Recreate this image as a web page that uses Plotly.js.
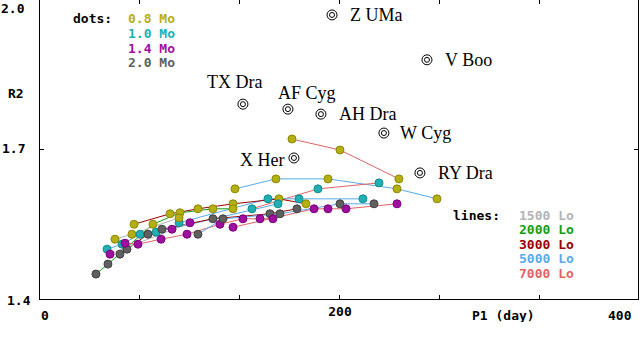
<!DOCTYPE html>
<html>
<head>
<meta charset="utf-8">
<script src="https://cdn.plot.ly/plotly-3.0.1.min.js"></script>
<style>html,body{margin:0;padding:0;background:#fff;}#chart{width:640px;height:350px;}</style>
</head>
<body>
<div id="chart"></div>
<script>
// ---- data ----
const massLabels = ['0.8 Mo', '1.0 Mo', '1.4 Mo', '2.0 Mo'];
const massColors = ['#b4b014', '#20b0b4', '#a010a0', '#606060'];
const massEdge = ['#8c8800', '#108a8e', '#780078', '#404040'];
const lumLabels = ['1500 Lo', '2000 Lo', '3000 Lo', '5000 Lo', '7000 Lo'];
const lumColors = ['#b4b4b4', '#10a010', '#980000', '#5aaaec', '#e06464'];

// model tracks: luminosity index, P1 (day), R2, mass index per point
const trackLum = [4, 3, 4, 3, 2, 1, 0, 3, 2, 4, 4, 3, 0];
const trackX = [
  [168, 200, 239.3],
  [130, 157.3, 192, 238, 264.7],
  [141.3, 185.3, 226],
  [92.7, 152, 172.7, 215.3],
  [62.7, 86.7, 105.3, 128.7, 159.3, 177.3],
  [37.3, 45.3, 75.3, 93.3, 115.3, 128.7],
  [50, 61.3, 92.7],
  [44.7, 54.7, 66.7, 77.3, 158.7],
  [53.3, 58, 72, 81.3, 115.3, 153.3, 171.3],
  [56.7, 65.3, 80.7, 98, 120, 135.3, 146.7, 155.3],
  [128.7, 182.7, 192, 204, 238],
  [105.3, 122, 160, 200, 222.7],
  [46.7, 88, 100]
];
const trackY = [
  [1.721, 1.699, 1.641],
  [1.621, 1.641, 1.641, 1.621, 1.601],
  [1.581, 1.621, 1.633],
  [1.553, 1.601, 1.601, 1.601],
  [1.550, 1.571, 1.581, 1.591, 1.601, 1.591],
  [1.450, 1.470, 1.550, 1.573, 1.581, 1.581],
  [1.520, 1.530, 1.563],
  [1.500, 1.510, 1.530, 1.534, 1.591],
  [1.490, 1.500, 1.530, 1.540, 1.561, 1.571, 1.581],
  [1.512, 1.510, 1.520, 1.530, 1.550, 1.561, 1.561, 1.561],
  [1.544, 1.581, 1.581, 1.581, 1.591],
  [1.530, 1.561, 1.571, 1.591, 1.591],
  [1.490, 1.540, 1.553]
];
const trackMass = [
  [0, 0, 0],
  [0, 0, 0, 0, 0],
  [1, 1, 1],
  [1, 1, 1, 1],
  [0, 0, 0, 0, 0, 0],
  [3, 3, 0, 0, 0, 0],
  [0, 0, 0],
  [1, 1, 1, 1, 1],
  [3, 3, 3, 3, 3, 3, 3],
  [2, 2, 2, 2, 2, 2, 2, 2],
  [2, 2, 2, 2, 2],
  [3, 3, 3, 3, 3],
  [2, 2, 2]
];

// observed stars
const starNames = ['Z UMa', 'V Boo', 'TX Dra', 'AF Cyg', 'AH Dra', 'W Cyg', 'X Her', 'RY Dra'];
const starP1 = [194.7, 258, 135.3, 165.3, 187.3, 229.3, 169.3, 253.3];
const starR2 = [1.970, 1.880, 1.791, 1.781, 1.771, 1.733, 1.683, 1.653];

// axis ticks
const xTickVals = [0, 66.667, 133.333, 200, 266.667, 333.333];
const xTickText = ['', '', '', '200', '', ''];
const yTickVals = [1.4, 1.7, 2.0];
const yTickText = ['1.4', '1.7', '2.0'];

// ---- figure ----
const W = 640, H = 350, ML = 40, MR = 2, MT = 0, MB = 51;
const PW = W - ML - MR, PH = H - MT - MB;
const px = v => (v - ML) / PW;           // pixel -> paper x
const py = v => (H - MB - v) / PH;       // pixel -> paper y

const traces = [];
trackX.forEach((xs, i) => {
  traces.push({
    x: xs, y: trackY[i], type: 'scatter', mode: 'lines',
    line: {color: lumColors[trackLum[i]], width: 1},
    hoverinfo: 'skip', showlegend: false
  });
});
trackX.forEach((xs, i) => {
  traces.push({
    x: xs, y: trackY[i], type: 'scatter', mode: 'markers',
    marker: {
      symbol: 'circle', size: 8,
      color: trackMass[i].map(m => massColors[m]),
      line: {color: trackMass[i].map(m => massEdge[m]), width: 1}
    },
    hoverinfo: 'skip', showlegend: false
  });
});
traces.push({
  x: starP1, y: starR2, type: 'scatter', mode: 'markers',
  marker: {symbol: 'circle-open', size: 10, color: '#000', line: {width: 1, color: '#000'}},
  hoverinfo: 'skip', showlegend: false
});
traces.push({
  x: starP1, y: starR2, type: 'scatter', mode: 'markers',
  marker: {symbol: 'circle-open', size: 5, color: '#000', line: {width: 1, color: '#000'}},
  hoverinfo: 'skip', showlegend: false
});

const mono = {family: 'DejaVu Sans Mono, monospace', size: 13, color: '#000', weight: 'bold'};
const serif = {family: 'Liberation Serif, Times New Roman, serif', size: 18, color: '#000'};

const annotations = [];
const starLabelShift = [[16, 0, 'left'], [16, 0, 'left'], [-8, 22, 'center'], [-12, 16, 'left'],
                        [16, 0, 'left'], [14, 0, 'left'], [-8, -2, 'right'], [16, 0, 'left']];
starNames.forEach((n, i) => {
  annotations.push({
    x: starP1[i], y: starR2[i], xref: 'x', yref: 'y', text: n, showarrow: false,
    xanchor: starLabelShift[i][2], yanchor: 'middle',
    xshift: starLabelShift[i][0], yshift: starLabelShift[i][1], font: serif
  });
});
const lab = (x, y, t, anchor, font, h) => annotations.push({
  x: px(x), y: py(y), xref: 'paper', yref: 'paper', text: t, showarrow: false,
  xanchor: anchor, yanchor: 'middle', font: font, height: h, borderpad: 0
});
// dot legend
lab(113, 19, 'dots:', 'right', mono, 13);
massLabels.forEach((t, i) => lab(127, 19 + i * 14.5, t, 'left', Object.assign({}, mono, {color: massColors[i]}), 13));
// line legend
lab(501, 215, 'lines:', 'right', mono, 13);
lumLabels.forEach((t, i) => lab(518, 215 + i * 14.5, t, 'left', Object.assign({}, mono, {color: lumColors[i]}), 13));
// axis titles and tick labels at the frame corners
lab(16, 93, 'R2', 'center', mono, 13);
lab(503, 315, 'P1 (day)', 'center', mono, 13);
lab(633, 315, '400', 'right', mono, 13);
lab(40, 315, '0', 'left', mono, 13);
lab(26, 9, '2.0', 'right', mono, 13);
lab(26, 148, '1.7', 'right', mono, 13);
lab(32, 300, '1.4', 'right', mono, 13);

const layout = {
  width: W, height: H,
  margin: {l: ML, r: MR, t: MT, b: MB, pad: 0},
  paper_bgcolor: '#fff', plot_bgcolor: '#fff',
  showlegend: false,
  xaxis: {
    range: [0, 398.7], tickmode: 'array', tickvals: xTickVals, ticktext: xTickText,
    ticks: 'inside', ticklen: 4, tickcolor: '#000', tickwidth: 1,
    showline: true, linecolor: '#000', linewidth: 1, mirror: 'ticks',
    showgrid: false, zeroline: false, tickfont: mono, fixedrange: true
  },
  yaxis: {
    range: [1.4, 2.0], tickmode: 'array', tickvals: yTickVals, ticktext: yTickText,
    ticks: 'inside', ticklen: 4, tickcolor: '#000', tickwidth: 1,
    showline: true, linecolor: '#000', linewidth: 1, mirror: 'ticks',
    showgrid: false, zeroline: false, showticklabels: false, fixedrange: true
  },
  annotations: annotations
};

Plotly.newPlot('chart', traces, layout, {displayModeBar: false, staticPlot: true});
</script>
</body>
</html>
